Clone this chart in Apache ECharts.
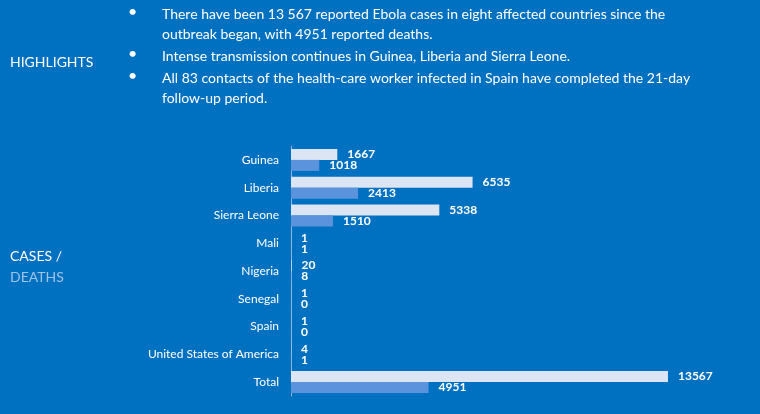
<!DOCTYPE html>
<html><head><meta charset="utf-8">
<script src="https://cdn.jsdelivr.net/npm/echarts@6/dist/echarts.min.js"></script>
<style>html,body{margin:0;background:#0070C0}#c{width:760px;height:414px}</style>
</head><body><div id="c"></div>
<script>
var countries = ['Guinea', 'Liberia', 'Sierra Leone', 'Mali', 'Nigeria', 'Senegal', 'Spain', 'United States of America', 'Total'];
var cases = [1667, 6535, 5338, 1, 20, 1, 1, 4, 13567];
var deaths = [1018, 2413, 1510, 1, 8, 0, 0, 1, 4951];
var bullets = [
  ['There have been 13 567 reported Ebola cases in eight affected countries since the', 'outbreak began, with 4951 reported deaths.'],
  ['Intense transmission continues in Guinea, Liberia and Sierra Leone.'],
  ['All 83 contacts of the health-care worker infected in Spain have completed the 21-day', 'follow-up period.']
];

var font = 'Lato, "Open Sans", sans-serif';
var gfx = [
  { type: 'text', left: 10, top: 55, style: { text: 'HIGHLIGHTS', fill: '#fff', font: '14px ' + font } },
  { type: 'text', left: 10, top: 249, style: { text: 'CASES /', fill: '#fff', font: '14px ' + font } },
  { type: 'text', left: 10, top: 270, style: { text: 'DEATHS', fill: '#9dc3e6', font: '14px ' + font } }
];
var bulletTops = [4, 46, 68];
bullets.forEach(function (lines, i) {
  gfx.push({ type: 'text', left: 128, top: bulletTops[i], style: { text: '•', fill: '#fff', font: '16px ' + font } });
  gfx.push({ type: 'text', left: 162, top: bulletTops[i], style: { text: lines.join('\n'), fill: '#fff', font: '14px ' + font, lineHeight: 20 } });
});

var chart = echarts.init(document.getElementById('c'));
chart.setOption({
  animation: false,
  backgroundColor: '#0070C0',
  graphic: gfx,
  grid: { left: 291, right: 80, top: 146, bottom: 18 },
  xAxis: { type: 'value', min: 0, max: 14000, show: false },
  yAxis: {
    type: 'category', data: countries, inverse: true,
    axisLine: { lineStyle: { color: '#8fb4e0' } },
    axisTick: { lineStyle: { color: '#8fb4e0' }, length: 4 },
    axisLabel: { color: '#fff', fontFamily: font, fontSize: 12, margin: 12 }
  },
  series: [
    { type: 'bar', data: cases, barWidth: 11, barGap: '0%', barCategoryGap: '20%',
      itemStyle: { color: '#dbe5f4' },
      label: { show: true, position: 'right', color: '#fff', fontFamily: font, fontSize: 12, fontWeight: 'bold', distance: 10 } },
    { type: 'bar', data: deaths, barWidth: 11,
      itemStyle: { color: '#5b93dc' },
      label: { show: true, position: 'right', color: '#fff', fontFamily: font, fontSize: 12, fontWeight: 'bold', distance: 10 } }
  ]
});
</script></body></html>
